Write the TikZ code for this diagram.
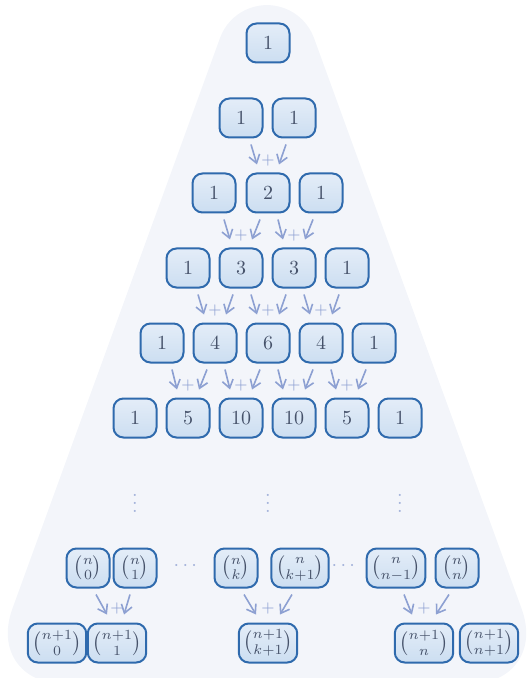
\documentclass[tikz,border=0pt]{standalone}
\usepackage{amsmath}
\usepackage{tikz}
\usetikzlibrary{arrows.meta}

\definecolor{bgfill}{HTML}{F3F5FA}
\definecolor{cellline}{HTML}{2F6AAD}
\definecolor{celltop}{HTML}{E4EDF8}
\definecolor{cellbot}{HTML}{CCDEF1}
\definecolor{celltext}{HTML}{46526A}
\definecolor{sumcol}{HTML}{8DA0D2}
\definecolor{dotcol}{HTML}{A3B2DA}

\tikzset{
  cell/.style={draw=cellline, line width=1pt, rounded corners=5pt,
    top color=celltop, bottom color=cellbot, text=celltext,
    minimum width=21.5pt, minimum height=19.5pt, inner sep=2.5pt},
  sumarrow/.style={draw=sumcol, line width=0.8pt,
    -{Straight Barb[length=4pt,width=5.5pt]}},
  plus/.style={text=sumcol, font=\footnotesize, inner sep=0pt},
  dots/.style={text=dotcol, inner sep=0pt},
}

\begin{document}
\begin{tikzpicture}[x=0.5pt, y=-0.5pt]
        \useasboundingbox (0,0) rectangle (530,678);
        \fill[bgfill] (220,38) arc (200:340:50) [rounded corners=40pt]
          -- (549,684) -- (-15,684) [sharp corners] -- cycle;

        \node[cell] (p00) at (268,43) {1};

        \node[cell] (p10) at (241,118) {1};
        \node[cell] (p11) at (294,118) {1};

        \node[cell] (p20) at (214,193) {1};
        \node[cell] (p21) at (268,193) {2};
        \node[cell] (p22) at (321,193) {1};

        \node[cell] (p30) at (188,268) {1};
        \node[cell] (p31) at (241,268) {3};
        \node[cell] (p32) at (294,268) {3};
        \node[cell] (p33) at (347,268) {1};

        \node[cell] (p40) at (162,343) {1};
        \node[cell] (p41) at (215,343) {4};
        \node[cell] (p42) at (268,343) {6};
        \node[cell] (p43) at (321,343) {4};
        \node[cell] (p44) at (374,343) {1};

        \node[cell] (p50) at (135,418) {1};
        \node[cell] (p51) at (188,418) {5};
        \node[cell] (p52) at (241,418) {10};
        \node[cell] (p53) at (294,418) {10};
        \node[cell] (p54) at (347,418) {5};
        \node[cell] (p55) at (400,418) {1};

        \node[dots] (v0) at (135,497) {$\vdots$};
        \node[dots] (v1) at (268,497) {$\vdots$};
        \node[dots] (v2) at (400,497) {$\vdots$};

        \node[cell] (n0) at (88,568) {$\tbinom{n}{0}$};
        \node[cell] (n1) at (135,568) {$\tbinom{n}{1}$};
        \node[dots] (c0) at (187,566) {$\cdots$};
        \node[cell] (nk) at (236,568) {$\tbinom{n}{k}$};
        \node[cell] (nk1) at (300,568) {$\tbinom{n}{k+1}$};
        \node[dots] (c1) at (345,566) {$\cdots$};
        \node[cell] (nn1) at (396,568) {$\tbinom{n}{n-1}$};
        \node[cell] (nn) at (457,568) {$\tbinom{n}{n}$};

        \node[cell] (m0) at (57,643) {$\tbinom{n+1}{0}$};
        \node[cell] (m1) at (117,643) {$\tbinom{n+1}{1}$};
        \node[cell] (mk1) at (268,643) {$\tbinom{n+1}{k+1}$};
        \node[cell] (mn) at (424,643) {$\tbinom{n+1}{n}$};
        \node[cell] (mn1) at (489,643) {$\tbinom{n+1}{n+1}$};

        \draw[sumarrow] ([shift={(5pt,-3pt)}]p10.south) -- ([shift={(-5.5pt,4pt)}]p21.north);
        \draw[sumarrow] ([shift={(-4pt,-3pt)}]p11.south) -- ([shift={(5.5pt,4pt)}]p21.north);
        \node[plus] (s21) at ([yshift=6pt]p21.north) {+};

        \draw[sumarrow] ([shift={(5pt,-3pt)}]p20.south) -- ([shift={(-5.5pt,4pt)}]p31.north);
        \draw[sumarrow] ([shift={(-4pt,-3pt)}]p21.south) -- ([shift={(5.5pt,4pt)}]p31.north);
        \node[plus] (s31) at ([yshift=6pt]p31.north) {+};
        \draw[sumarrow] ([shift={(5pt,-3pt)}]p21.south) -- ([shift={(-5.5pt,4pt)}]p32.north);
        \draw[sumarrow] ([shift={(-4pt,-3pt)}]p22.south) -- ([shift={(5.5pt,4pt)}]p32.north);
        \node[plus] (s32) at ([yshift=6pt]p32.north) {+};

        \draw[sumarrow] ([shift={(5pt,-3pt)}]p30.south) -- ([shift={(-5.5pt,4pt)}]p41.north);
        \draw[sumarrow] ([shift={(-4pt,-3pt)}]p31.south) -- ([shift={(5.5pt,4pt)}]p41.north);
        \node[plus] (s41) at ([yshift=6pt]p41.north) {+};
        \draw[sumarrow] ([shift={(5pt,-3pt)}]p31.south) -- ([shift={(-5.5pt,4pt)}]p42.north);
        \draw[sumarrow] ([shift={(-4pt,-3pt)}]p32.south) -- ([shift={(5.5pt,4pt)}]p42.north);
        \node[plus] (s42) at ([yshift=6pt]p42.north) {+};
        \draw[sumarrow] ([shift={(5pt,-3pt)}]p32.south) -- ([shift={(-5.5pt,4pt)}]p43.north);
        \draw[sumarrow] ([shift={(-4pt,-3pt)}]p33.south) -- ([shift={(5.5pt,4pt)}]p43.north);
        \node[plus] (s43) at ([yshift=6pt]p43.north) {+};

        \draw[sumarrow] ([shift={(5pt,-3pt)}]p40.south) -- ([shift={(-5.5pt,4pt)}]p51.north);
        \draw[sumarrow] ([shift={(-4pt,-3pt)}]p41.south) -- ([shift={(5.5pt,4pt)}]p51.north);
        \node[plus] (s51) at ([yshift=6pt]p51.north) {+};
        \draw[sumarrow] ([shift={(5pt,-3pt)}]p41.south) -- ([shift={(-5.5pt,4pt)}]p52.north);
        \draw[sumarrow] ([shift={(-4pt,-3pt)}]p42.south) -- ([shift={(5.5pt,4pt)}]p52.north);
        \node[plus] (s52) at ([yshift=6pt]p52.north) {+};
        \draw[sumarrow] ([shift={(5pt,-3pt)}]p42.south) -- ([shift={(-5.5pt,4pt)}]p53.north);
        \draw[sumarrow] ([shift={(-4pt,-3pt)}]p43.south) -- ([shift={(5.5pt,4pt)}]p53.north);
        \node[plus] (s53) at ([yshift=6pt]p53.north) {+};
        \draw[sumarrow] ([shift={(5pt,-3pt)}]p43.south) -- ([shift={(-5.5pt,4pt)}]p54.north);
        \draw[sumarrow] ([shift={(-4pt,-3pt)}]p44.south) -- ([shift={(5.5pt,4pt)}]p54.north);
        \node[plus] (s54) at ([yshift=6pt]p54.north) {+};

        \draw[sumarrow] ([shift={(4pt,-3pt)}]n0.south) -- ([shift={(-5pt,4pt)}]m1.north);
        \draw[sumarrow] ([shift={(-2.5pt,-3pt)}]n1.south) -- ([shift={(3.5pt,4pt)}]m1.north);
        \node[plus] (t1) at ([yshift=7pt]m1.north) {+};
        \draw[sumarrow] ([shift={(4pt,-3pt)}]nk.south) -- ([shift={(-6pt,4pt)}]mk1.north);
        \draw[sumarrow] ([shift={(-4pt,-3pt)}]nk1.south) -- ([shift={(6pt,4pt)}]mk1.north);
        \node[plus] (tk) at ([yshift=7pt]mk1.north) {+};
        \draw[sumarrow] ([shift={(4pt,-3pt)}]nn1.south) -- ([shift={(-6pt,4pt)}]mn.north);
        \draw[sumarrow] ([shift={(-4pt,-3pt)}]nn.south) -- ([shift={(6pt,4pt)}]mn.north);
        \node[plus] (tn) at ([yshift=7pt]mn.north) {+};
    \end{tikzpicture}
\end{document}
